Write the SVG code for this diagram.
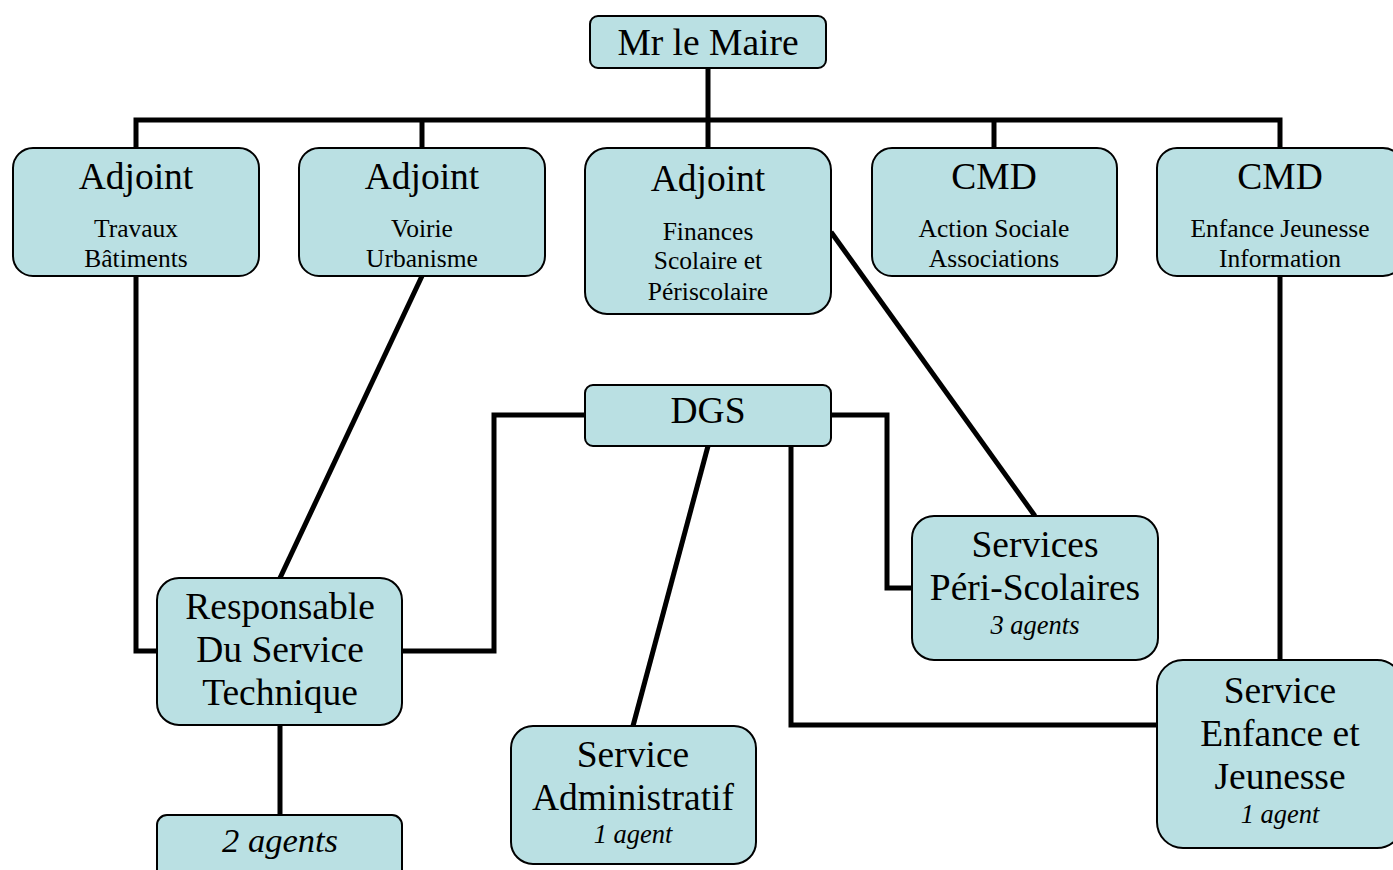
<svg xmlns="http://www.w3.org/2000/svg" width="1393" height="870" viewBox="0 0 1393 870">
<style>
.box{fill:#BAE0E3;stroke:#000;stroke-width:2}
.ln{fill:none;stroke:#000;stroke-width:5}
text{font-family:"Liberation Serif","Times New Roman",serif;fill:#000;text-anchor:middle}
.t{font-size:37.5px}
.s{font-size:25.5px}
.i{font-size:26.5px;font-style:italic}
.ti{font-size:34.5px;font-style:italic}
</style>
<rect width="1393" height="870" fill="#fff"/>
<g id="connectors">
<polyline class="ln" points="708,68 708,148"/>
<polyline class="ln" points="136,148 136,120 1280,120 1280,148"/>
<line class="ln" x1="422" y1="120" x2="422" y2="148"/>
<line class="ln" x1="994" y1="120" x2="994" y2="148"/>
<polyline class="ln" points="136,276 136,651 157,651"/>
<line class="ln" x1="422" y1="276" x2="280" y2="578"/>
<line class="ln" x1="831" y1="232" x2="1035" y2="516"/>
<line class="ln" x1="1280" y1="276" x2="1280" y2="660"/>
<polyline class="ln" points="585,415 494,415 494,651 402,651"/>
<polyline class="ln" points="831,415 887,415 887,588 912,588"/>
<line class="ln" x1="708" y1="446" x2="633" y2="726"/>
<polyline class="ln" points="791,446 791,725 1157,725"/>
<line class="ln" x1="280" y1="725" x2="280" y2="815"/>
</g>
<g id="maire">
<rect class="box" x="590" y="16" width="236" height="52" rx="8"/>
<text class="t" x="708" y="55">Mr le Maire</text>
</g>
<g id="adjoint-travaux">
<rect class="box" x="13" y="148" width="246" height="128" rx="20"/>
<text class="t" x="136" y="189">Adjoint</text>
<text class="s" x="136" y="237">Travaux</text>
<text class="s" x="136" y="267">Bâtiments</text>
</g>
<g id="adjoint-voirie">
<rect class="box" x="299" y="148" width="246" height="128" rx="20"/>
<text class="t" x="422" y="189">Adjoint</text>
<text class="s" x="422" y="237">Voirie</text>
<text class="s" x="422" y="267">Urbanisme</text>
</g>
<g id="adjoint-finances">
<rect class="box" x="585" y="148" width="246" height="166" rx="22"/>
<text class="t" x="708" y="191">Adjoint</text>
<text class="s" x="708" y="240">Finances</text>
<text class="s" x="708" y="269">Scolaire et</text>
<text class="s" x="708" y="300">Périscolaire</text>
</g>
<g id="cmd-action">
<rect class="box" x="872" y="148" width="245" height="128" rx="20"/>
<text class="t" x="994" y="189">CMD</text>
<text class="s" x="994" y="237">Action Sociale</text>
<text class="s" x="994" y="267">Associations</text>
</g>
<g id="cmd-enfance">
<rect class="box" x="1157" y="148" width="246" height="128" rx="20"/>
<text class="t" x="1280" y="189">CMD</text>
<text class="s" x="1280" y="237">Enfance Jeunesse</text>
<text class="s" x="1280" y="267">Information</text>
</g>
<g id="dgs">
<rect class="box" x="585" y="385" width="246" height="61" rx="8"/>
<text class="t" x="708" y="423">DGS</text>
</g>
<g id="responsable">
<rect class="box" x="157" y="578" width="245" height="147" rx="22"/>
<text class="t" x="280" y="619">Responsable</text>
<text class="t" x="280" y="662">Du Service</text>
<text class="t" x="280" y="705">Technique</text>
</g>
<g id="agents2">
<rect class="box" x="157" y="815" width="245" height="70" rx="10"/>
<text class="ti" x="280" y="852">2 agents</text>
</g>
<g id="service-admin">
<rect class="box" x="511" y="726" width="245" height="138" rx="22"/>
<text class="t" x="633" y="767">Service</text>
<text class="t" x="633" y="810">Administratif</text>
<text class="i" x="633" y="843">1 agent</text>
</g>
<g id="peri-scolaires">
<rect class="box" x="912" y="516" width="246" height="144" rx="22"/>
<text class="t" x="1035" y="557">Services</text>
<text class="t" x="1035" y="600">Péri-Scolaires</text>
<text class="i" x="1035" y="634">3 agents</text>
</g>
<g id="service-enfance">
<rect class="box" x="1157" y="660" width="246" height="188" rx="26"/>
<text class="t" x="1280" y="703">Service</text>
<text class="t" x="1280" y="746">Enfance et</text>
<text class="t" x="1280" y="789">Jeunesse</text>
<text class="i" x="1280" y="823">1 agent</text>
</g>
</svg>
